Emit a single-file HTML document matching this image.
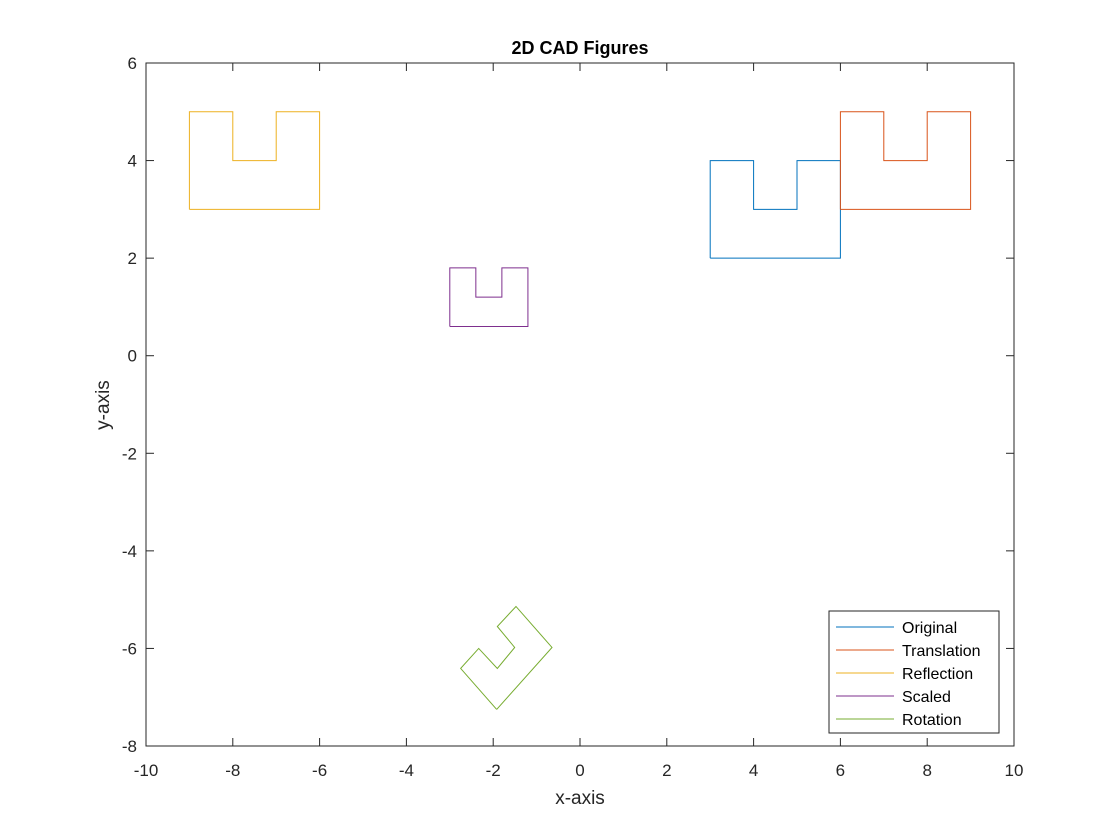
<!DOCTYPE html>
<html><head><meta charset="utf-8"><style>
body{margin:0;background:#fff;}
svg{display:block;font-family:"Liberation Sans",Arial,sans-serif;}
</style></head><body>
<svg id="chart" width="1120" height="840">
<rect width="1120" height="840" fill="#fff"/>
<g id="grid"></g>
<g id="marks"></g>
<g id="axes"></g>
</svg>
<script>
const xTicks=[-10,-8,-6,-4,-2,0,2,4,6,8,10];
const yTicks=[-8,-6,-4,-2,0,2,4,6];
const seriesNames=["Original","Translation","Reflection","Scaled","Rotation"];
const seriesColors=["#0072BD","#D95319","#EDB120","#7E2F8E","#77AC30"];
const originalX=[3,6,6,5,5,4,4,3,3];
const originalY=[2,2,4,4,3,3,4,4,2];
const translationX=[6,9,9,8,8,7,7,6,6];
const translationY=[3,3,5,5,4,4,5,5,3];
const reflectionX=[-9,-6,-6,-7,-7,-8,-8,-9,-9];
const reflectionY=[3,3,5,5,4,4,5,5,3];
const scaledX=[-3,-1.2,-1.2,-1.8,-1.8,-2.4,-2.4,-3,-3];
const scaledY=[0.6,0.6,1.8,1.8,1.2,1.2,1.8,1.8,0.6];
const rotationX=[-1.92,-0.645,-1.475,-1.905,-1.505,-1.905,-2.334,-2.75,-1.92];
const rotationY=[-7.25,-5.98,-5.14,-5.55,-5.98,-6.41,-6.0,-6.41,-7.25];
const seriesX=[originalX,translationX,reflectionX,scaledX,rotationX];
const seriesY=[originalY,translationY,reflectionY,scaledY,rotationY];

const L=146,R=1014,T=63,B=746;
const sx=v=>L+(v+10)/20*(R-L);
const sy=v=>T+(6-v)/14*(B-T);
const NS="http://www.w3.org/2000/svg";
function mk(tag,attrs,parent){const e=document.createElementNS(NS,tag);for(const k in attrs)e.setAttribute(k,attrs[k]);parent.appendChild(e);return e;}
const axes=document.getElementById('axes'),marks=document.getElementById('marks');

seriesX.forEach((xs,i)=>{
  const pts=xs.map((x,j)=>sx(x)+','+sy(seriesY[i][j])).join(' ');
  const p=mk('polyline',{points:pts,fill:'none',stroke:seriesColors[i],'stroke-width':1},marks);
  
  
});

const box=mk('rect',{x:L,y:T,width:R-L,height:B-T,fill:'none',stroke:'#262626','stroke-width':1},axes);


xTicks.forEach(v=>{
  const x=sx(v);
  mk('line',{x1:x,x2:x,y1:B,y2:B-8,stroke:'#262626'},axes);
  mk('line',{x1:x,x2:x,y1:T,y2:T+8,stroke:'#262626'},axes);
  const t=mk('text',{x:x,y:B+30,'text-anchor':'middle','font-size':17,fill:'#262626'},axes);
  t.textContent=v;
  
  
});
yTicks.forEach(v=>{
  const y=sy(v);
  mk('line',{x1:L,x2:L+8,y1:y,y2:y,stroke:'#262626'},axes);
  mk('line',{x1:R,x2:R-8,y1:y,y2:y,stroke:'#262626'},axes);
  const t=mk('text',{x:L-9,y:y+6,'text-anchor':'end','font-size':17,fill:'#262626'},axes);
  t.textContent=v;
  
  
});
const title=mk('text',{x:(L+R)/2,y:54,'text-anchor':'middle','font-size':18,'font-weight':'bold',fill:'#000'},axes);
title.textContent='2D CAD Figures';


const xl=mk('text',{x:(L+R)/2,y:804,'text-anchor':'middle','font-size':19,fill:'#262626'},axes);
xl.textContent='x-axis';


const yl=mk('text',{x:0,y:0,'text-anchor':'middle','font-size':19,fill:'#262626',transform:'translate(109,405) rotate(-90)'},axes);
yl.textContent='y-axis';



const lg=mk('g',{},axes);


mk('rect',{x:829,y:611,width:170,height:122,fill:'#fff',stroke:'#262626','stroke-width':1},lg);
seriesNames.forEach((n,i)=>{
  const y=627+i*23;
  const e=mk('g',{},lg);
  
  
  mk('line',{x1:836,x2:894,y1:y,y2:y,stroke:seriesColors[i]},e);
  const t=mk('text',{x:902,y:y+6,'font-size':16,fill:'#000'},e);
  t.textContent=n;
});
</script>
</body></html>
